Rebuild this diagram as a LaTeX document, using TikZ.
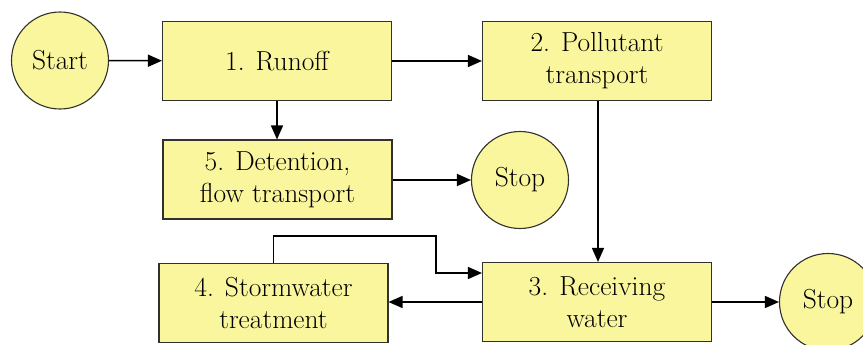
\documentclass[tikz,border=0pt]{standalone}
\usepackage{fontspec}
\usetikzlibrary{arrows.meta,positioning}
\definecolor{boxyellow}{RGB}{250,246,158}
\definecolor{edgegray}{RGB}{50,50,45}
\tikzset{
    stepbox/.style={
        draw=edgegray, line width=1.1pt, fill=boxyellow,
        rectangle, align=center, inner sep=0pt,
        minimum width=229pt, minimum height=79pt,
        font=\fontsize{27.5}{32}\selectfont
    },
    endpoint/.style={
        draw=edgegray, line width=1.1pt, fill=boxyellow,
        circle, inner sep=0pt, minimum size=97pt,
        font=\fontsize{27.5}{32}\selectfont
    },
    flow/.style={
        line width=1.5pt, black,
        -{Triangle[length=14pt,width=12pt]}
    }
}
\begin{document}
\begin{tikzpicture}[x=1pt,y=-1pt]
    \useasboundingbox (0,0) rectangle (863,345);
    % nodes
    \node[endpoint] (start) at (60,60.5) {Start};
    \node[stepbox] (runoff) at (277,61) {1. Runoff};
    \node[stepbox] (pollutant) at (597,61) {2. Pollutant\\transport};
    \node[stepbox] (detention) at (277.5,179.5) {5. Detention,\\flow transport};
    \node[endpoint] (stopa) at (520,180) {Stop};
    \node[stepbox] (receiving) at (597,302) {3. Receiving\\water};
    \node[stepbox] (stormwater) at (273.5,303) {4. Stormwater\\treatment};
    \node[endpoint] (stopb) at (828,302) {Stop};
    \coordinate (bend) at (436,236);
    % connectors
    \draw[flow] (start) -- (runoff);
    \draw[flow] (runoff) -- (pollutant);
    \draw[flow] (runoff.south) -- (runoff.south |- detention.north);
    \draw[flow] (detention.east |- stopa) -- (stopa);
    \draw[flow] (pollutant.south -| 598,0) -- (receiving.north -| 598,0);
    \draw[flow] (receiving) -- (stormwater.east |- receiving);
    \draw[flow] (receiving) -- (stopb);
    \draw[flow] (stormwater.north) |- (bend) |- ([yshift=29pt]receiving.west);
\end{tikzpicture}
\end{document}
